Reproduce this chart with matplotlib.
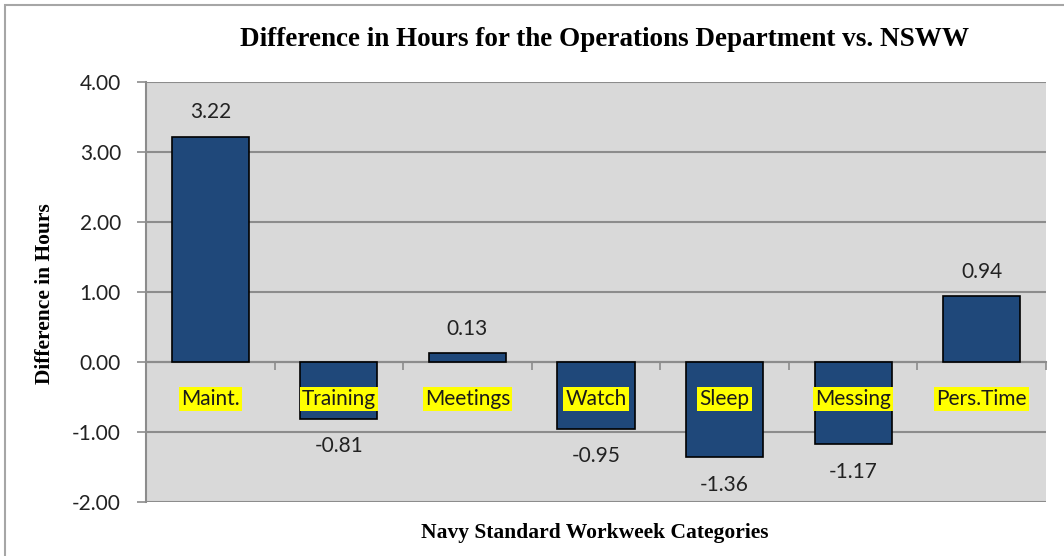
import matplotlib.pyplot as plt
from matplotlib.patches import Rectangle

categories = ['Maint.', 'Training', 'Meetings', 'Watch', 'Sleep', 'Messing', 'Pers.Time']
diff_hours = [3.22, -0.81, 0.13, -0.95, -1.36, -1.17, 0.94]
y_ticks = [-2.0, -1.0, 0.0, 1.0, 2.0, 3.0, 4.0]

sans = ['Lato', 'DejaVu Sans']
serif = 'Liberation Serif'
grid_col = '#8c8c8c'

fig = plt.figure(figsize=(10.64, 5.56), dpi=100)
ax = fig.add_axes([146 / 1064, 1 - 502 / 556, 900 / 1064, 420 / 556])
ax.set_facecolor('#d9d9d9')

x = list(range(len(categories)))
ax.bar(x, diff_hours, width=0.6, color='#1f487a', edgecolor='black', linewidth=1.2, zorder=3)

ax.set_xlim(-0.5, len(categories) - 0.5)
ax.set_ylim(-2, 4)
ax.set_yticks(y_ticks)
ax.set_yticklabels(['%.2f' % v for v in y_ticks], fontsize=15, family=sans, color='#222222')
ax.yaxis.grid(True, color=grid_col, linewidth=1.5, zorder=0)
ax.set_axisbelow(True)

# x axis sits on zero, ticks on category boundaries
ax.spines['bottom'].set_position(('data', 0))
ax.spines['bottom'].set_color(grid_col)
ax.spines['bottom'].set_linewidth(1.5)
ax.spines['bottom'].set_zorder(2)
ax.spines['left'].set_color(grid_col)
ax.spines['left'].set_linewidth(1.5)
ax.spines['top'].set_visible(False)
ax.spines['right'].set_visible(False)
ax.set_xticks([i + 0.5 for i in range(-1, len(categories))])
ax.set_xticklabels([])
ax.tick_params(axis='x', direction='out', length=6, width=1.2, color=grid_col)
ax.tick_params(axis='y', direction='out', length=6.5, width=1.2, color=grid_col, pad=11.5)

for i, name in enumerate(categories):
    ax.text(i, -0.53, name, ha='center', va='center', fontsize=15, family=sans,
            color='#1a1a1a', zorder=5,
            bbox=dict(boxstyle='square,pad=0.1', facecolor='#ffff00', edgecolor='none'))

for i, v in enumerate(diff_hours):
    off = 17.5 if v >= 0 else -20
    ax.annotate('%.2f' % v, (i, v), xytext=(0, off), textcoords='offset points',
                ha='center', va='center', fontsize=15, family=sans, color='#222222')

fig.text(605 / 1064, 1 - 40 / 556, 'Difference in Hours for the Operations Department vs. NSWW',
         ha='center', va='center', fontsize=19.5, family=serif, fontweight='bold')
fig.text(595 / 1064, 1 - 533 / 556, 'Navy Standard Workweek Categories',
         ha='center', va='center', fontsize=15.5, family=serif, fontweight='bold')
fig.text(45 / 1064, 1 - 294 / 556, 'Difference in Hours', rotation=90,
         ha='center', va='center', fontsize=15.5, family=serif, fontweight='bold')

# outer chart border
fig.patches.append(Rectangle((5 / 1064, -0.1), 1.2, 1 - 5 / 556 + 0.1, transform=fig.transFigure,
                             fill=False, edgecolor='#a6a6a6', linewidth=1.5))

fig.savefig('out.png', dpi=100)
